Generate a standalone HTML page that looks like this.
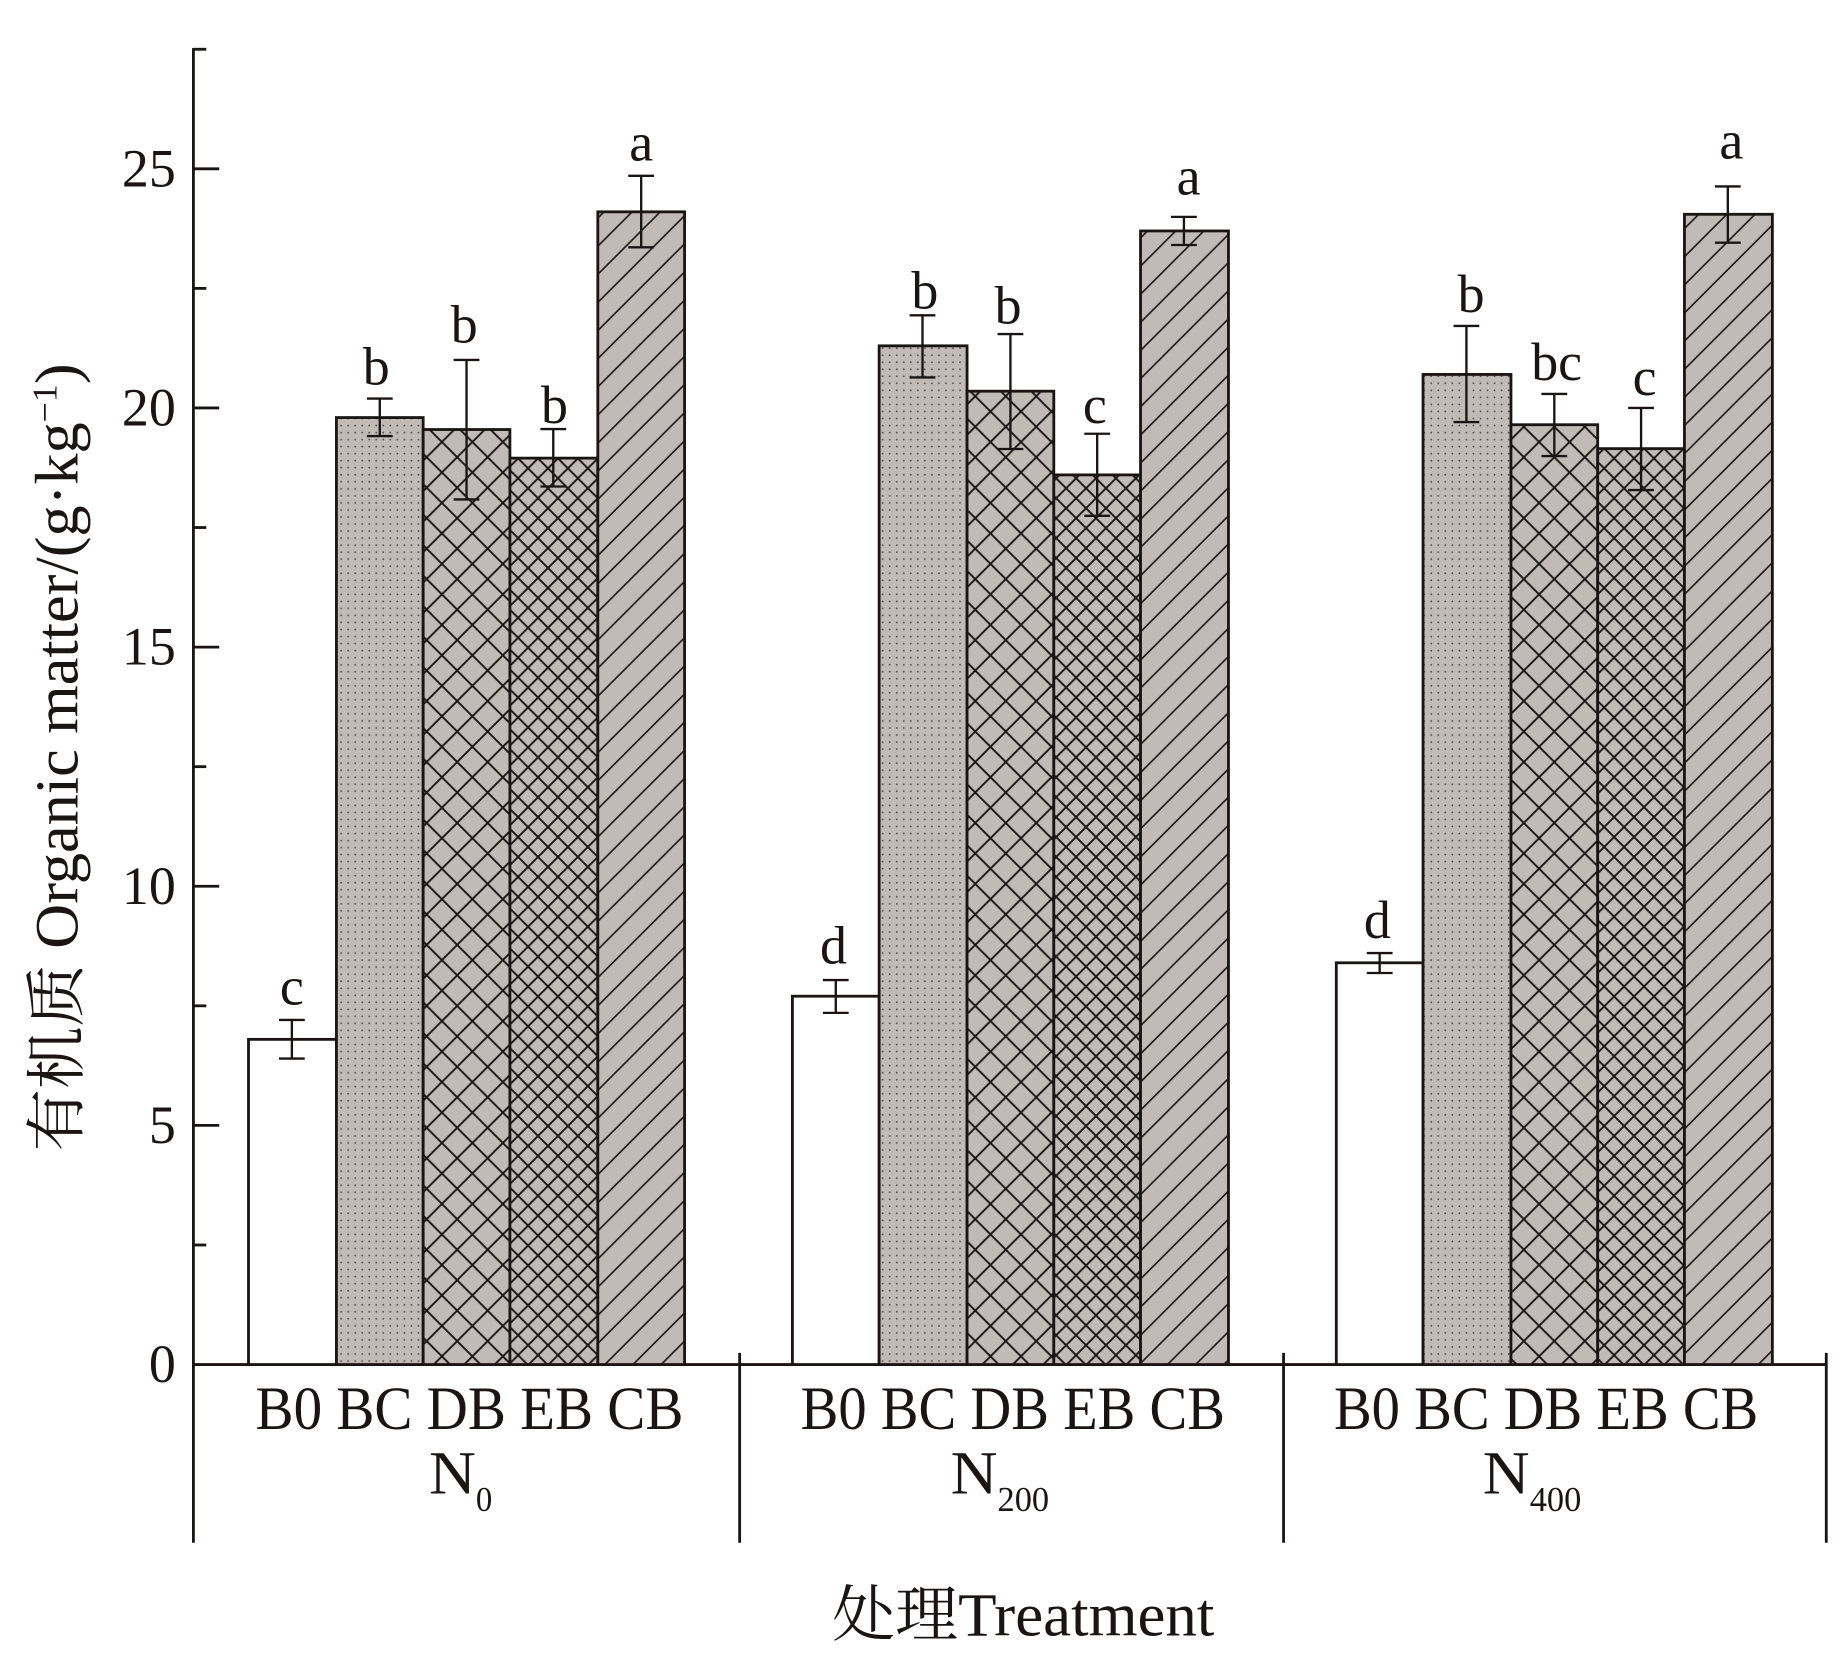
<!DOCTYPE html>
<html><head><meta charset="utf-8"><style>html,body{margin:0;padding:0;background:#fff}svg{display:block}</style></head>
<body>
<svg width="1838" height="1667" viewBox="0 0 1568 1422" preserveAspectRatio="none" xmlns="http://www.w3.org/2000/svg" font-family="Liberation Serif, Noto Serif CJK SC, serif" fill="#1a1514">
<defs>
<pattern id="dots" width="6" height="6" patternUnits="userSpaceOnUse"><rect width="6" height="6" fill="#c2bab7"/><circle cx="3" cy="3" r="0.8" fill="#5a5250"/></pattern>
<pattern id="xc" width="26" height="26" patternUnits="userSpaceOnUse"><rect width="26" height="26" fill="#c2bab7"/><path d="M0 0L26 26M26 0L0 26" stroke="#1a1514" stroke-width="1.6"/></pattern>
<pattern id="xf" width="17" height="17" patternUnits="userSpaceOnUse"><rect width="17" height="17" fill="#c2bab7"/><path d="M0 0L17 17M17 0L0 17" stroke="#1a1514" stroke-width="1.6"/></pattern>
<pattern id="dg" width="24" height="24" patternUnits="userSpaceOnUse"><rect width="24" height="24" fill="#c2bab7"/><path d="M0 24L24 0M-6 6L6 -6M18 30L30 18" stroke="#1a1514" stroke-width="1.4"/></pattern>
</defs>
<g stroke="#1a1514" stroke-width="2.4" fill="none">
<line x1="165" y1="41" x2="165" y2="1316"/>
<line x1="165" y1="1164" x2="1558" y2="1164"/>
<line x1="631" y1="1154" x2="631" y2="1316"/>
<line x1="1095" y1="1154" x2="1095" y2="1316"/>
<line x1="1558" y1="1154" x2="1558" y2="1316"/>
<line x1="165" y1="42" x2="176" y2="42"/>
<line x1="165" y1="144" x2="187" y2="144"/><line x1="165" y1="246" x2="176" y2="246"/>
<line x1="165" y1="348" x2="187" y2="348"/><line x1="165" y1="450" x2="176" y2="450"/>
<line x1="165" y1="552" x2="187" y2="552"/><line x1="165" y1="654" x2="176" y2="654"/>
<line x1="165" y1="756" x2="187" y2="756"/><line x1="165" y1="858" x2="176" y2="858"/>
<line x1="165" y1="960" x2="187" y2="960"/><line x1="165" y1="1062" x2="176" y2="1062"/>
</g>
<g font-size="46" text-anchor="end">
<text x="150" y="1179">0</text><text x="150" y="975">5</text><text x="150" y="771">10</text><text x="150" y="567">15</text><text x="150" y="363">20</text><text x="150" y="159">25</text>
</g>
<g stroke="#1a1514" stroke-width="2.4">
<rect x="212" y="886.6" width="75" height="277.4" fill="#fff"/>
<rect x="287" y="356.2" width="74" height="807.8" fill="url(#dots)"/>
<rect x="361" y="366.4" width="74" height="797.6" fill="url(#xc)"/>
<rect x="435" y="390.8" width="75" height="773.2" fill="url(#xf)"/>
<rect x="510" y="180.7" width="74" height="983.3" fill="url(#dg)"/>
<rect x="676" y="849.8" width="74" height="314.2" fill="#fff"/>
<rect x="750" y="295" width="75" height="869" fill="url(#dots)"/>
<rect x="825" y="333.7" width="74" height="830.3" fill="url(#xc)"/>
<rect x="899" y="405.1" width="74" height="758.9" fill="url(#xf)"/>
<rect x="973" y="197" width="75" height="967" fill="url(#dg)"/>
<rect x="1140" y="821.3" width="74" height="342.7" fill="#fff"/>
<rect x="1214" y="319.4" width="75" height="844.6" fill="url(#dots)"/>
<rect x="1289" y="362.3" width="74" height="801.7" fill="url(#xc)"/>
<rect x="1363" y="382.7" width="74" height="781.3" fill="url(#xf)"/>
<rect x="1437" y="182.8" width="75" height="981.2" fill="url(#dg)"/>
</g>
<g stroke="#1a1514" stroke-width="2">
<path d="M249 870v33M238 870h22M238 903h22"/>
<path d="M324 340v32M313 340h22M313 372h22"/>
<path d="M398 307v119M387 307h22M387 426h22"/>
<path d="M472 366v49M461 366h22M461 415h22"/>
<path d="M547 150v61M536 150h22M536 211h22"/>
<path d="M713 836v28M702 836h22M702 864h22"/>
<path d="M787 269v53M776 269h22M776 322h22"/>
<path d="M862 285v98M851 285h22M851 383h22"/>
<path d="M936 370v70M925 370h22M925 440h22"/>
<path d="M1010 185v24M999 185h22M999 209h22"/>
<path d="M1177 813v17M1166 813h22M1166 830h22"/>
<path d="M1251 278v82M1240 278h22M1240 360h22"/>
<path d="M1326 336v53M1315 336h22M1315 389h22"/>
<path d="M1400 348v70M1389 348h22M1389 418h22"/>
<path d="M1474 159v48M1463 159h22M1463 207h22"/>
</g>
<g font-size="46" text-anchor="middle">
<text x="249" y="857">c</text><text x="321" y="328">b</text><text x="396" y="292">b</text><text x="473" y="361">b</text><text x="547" y="137">a</text>
<text x="711" y="822">d</text><text x="789" y="263">b</text><text x="860" y="276">b</text><text x="934" y="361">c</text><text x="1014" y="166">a</text>
<text x="1175" y="800">d</text><text x="1255" y="266">b</text><text x="1328" y="324">bc</text><text x="1403" y="337">c</text><text x="1477" y="135">a</text>
</g>
<g font-size="52">
<text x="218" y="1219" textLength="365" lengthAdjust="spacingAndGlyphs">B0 BC DB EB CB</text>
<text x="683" y="1219" textLength="362" lengthAdjust="spacingAndGlyphs">B0 BC DB EB CB</text>
<text x="1138" y="1219" textLength="362" lengthAdjust="spacingAndGlyphs">B0 BC DB EB CB</text>
<text x="366" y="1274" textLength="40" lengthAdjust="spacingAndGlyphs">N</text><text x="406" y="1289" font-size="30" textLength="14" lengthAdjust="spacingAndGlyphs">0</text>
<text x="811" y="1274" textLength="40" lengthAdjust="spacingAndGlyphs">N</text><text x="851" y="1289" font-size="30" textLength="44" lengthAdjust="spacingAndGlyphs">200</text>
<text x="1265" y="1274" textLength="40" lengthAdjust="spacingAndGlyphs">N</text><text x="1305" y="1289" font-size="30" textLength="44" lengthAdjust="spacingAndGlyphs">400</text>
<text x="710" y="1395" textLength="326" lengthAdjust="spacingAndGlyphs">处理Treatment</text>
<text transform="translate(66,982) rotate(-90)" textLength="672" lengthAdjust="spacingAndGlyphs">有机质 Organic matter/(g·kg<tspan font-size="30" dy="-18">−1</tspan><tspan dy="18">)</tspan></text>
</g>
</svg>
</body></html>
